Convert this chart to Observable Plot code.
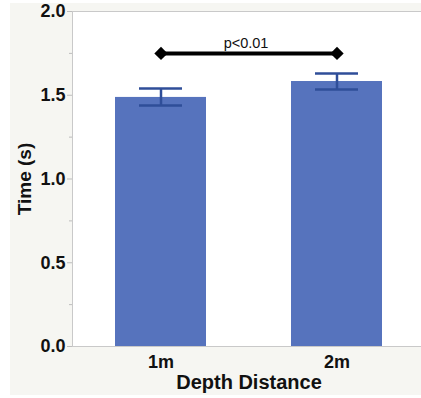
<!DOCTYPE html>
<html>
<head>
<meta charset="utf-8">
<script src="https://cdn.jsdelivr.net/npm/d3@7"></script>
<script src="https://cdn.jsdelivr.net/npm/@observablehq/plot@0.6"></script>
<style>
  html, body { margin: 0; padding: 0; background: #ffffff; }
  #bg { position: absolute; left: 10px; top: 3px; width: 411px; height: 392px; background: #f6f6f2; }
  #chart { position: absolute; left: 0; top: 0; }
  #chart svg { background: transparent; font-family: "Liberation Sans", Arial, sans-serif; }
  g[aria-label="y-axis tick label"] text, g[aria-label="x-axis tick label"] text { font-weight: bold; }
  g[aria-label="x-axis label"] text { font-weight: bold; font-size: 20px; }
  g[aria-label="y-axis label"] text { font-weight: bold; font-size: 19px; }
</style>
</head>
<body>
<div id="bg"></div>
<div id="chart"></div>
<script>
const categories = ["1m", "2m"];
const means = [1.487, 1.582];
const errLow = [1.439, 1.534];
const errHigh = [1.54, 1.63];
const yTicks = [0, 0.5, 1.0, 1.5, 2.0];
const yMinorTicks = [0.25, 0.75, 1.25, 1.75];
const sigLevel = 1.75;
const sigLabel = "p<0.01";

const data = categories.map((c, i) => ({cat: c, mean: means[i], lo: errLow[i], hi: errHigh[i]}));
const sig = [{cat: categories[0], y: sigLevel}, {cat: categories[1], y: sigLevel}];

const chart = Plot.plot({
  width: 421,
  height: 398,
  marginLeft: 72,
  marginTop: 11,
  marginBottom: 52,
  marginRight: -4,
  x: {domain: categories, paddingInner: 0.483, paddingOuter: 0.244, label: null},
  y: {domain: [0, 2], label: null},
  marks: [
    Plot.frame({fill: "white", stroke: null}),
    Plot.frame({anchor: "top", stroke: "#c9c9c9"}),
    Plot.frame({anchor: "left", stroke: "#c9c9c9"}),
    Plot.frame({anchor: "bottom", stroke: "#c9c9c9"}),
    Plot.axisY(yTicks, {tickSize: 5, tickPadding: 2, stroke: "#bdbdbd", fontSize: 18, tickFormat: d => d.toFixed(1), label: "Time (s)", labelArrow: false, labelAnchor: "center", labelOffset: 55, color: "#111"}),
    Plot.axisY(yMinorTicks, {tickSize: 3, stroke: "#bdbdbd", tickFormat: () => "", label: null}),
    Plot.axisX({tickSize: 0, tickPadding: 9, fontSize: 18, label: "Depth Distance", labelArrow: false, labelAnchor: "center", labelOffset: 42, color: "#111"}),
    Plot.barY(data, {x: "cat", y: "mean", fill: "#5673bd"}),
    Plot.ruleX(data, {x: "cat", y1: "lo", y2: "hi", stroke: "#2f4e99", strokeWidth: 2.5}),
    Plot.tickY(data, {x: "cat", y: "hi", stroke: "#2f4e99", strokeWidth: 2.5, inset: 24}),
    Plot.tickY(data, {x: "cat", y: "lo", stroke: "#2f4e99", strokeWidth: 2.5, inset: 24}),
    Plot.line(sig, {x: "cat", y: "y", stroke: "black", strokeWidth: 4}),
    Plot.dot(sig, {x: "cat", y: "y", symbol: "diamond2", fill: "black", stroke: null, r: 6}),
    Plot.text([sigLabel], {frameAnchor: "top", y: () => sigLevel, text: d => d, lineAnchor: "bottom", dy: -5, dx: -3, fontSize: 14.5, fill: "#111"})
  ]
});
document.getElementById("chart").appendChild(chart);
</script>
</body>
</html>
